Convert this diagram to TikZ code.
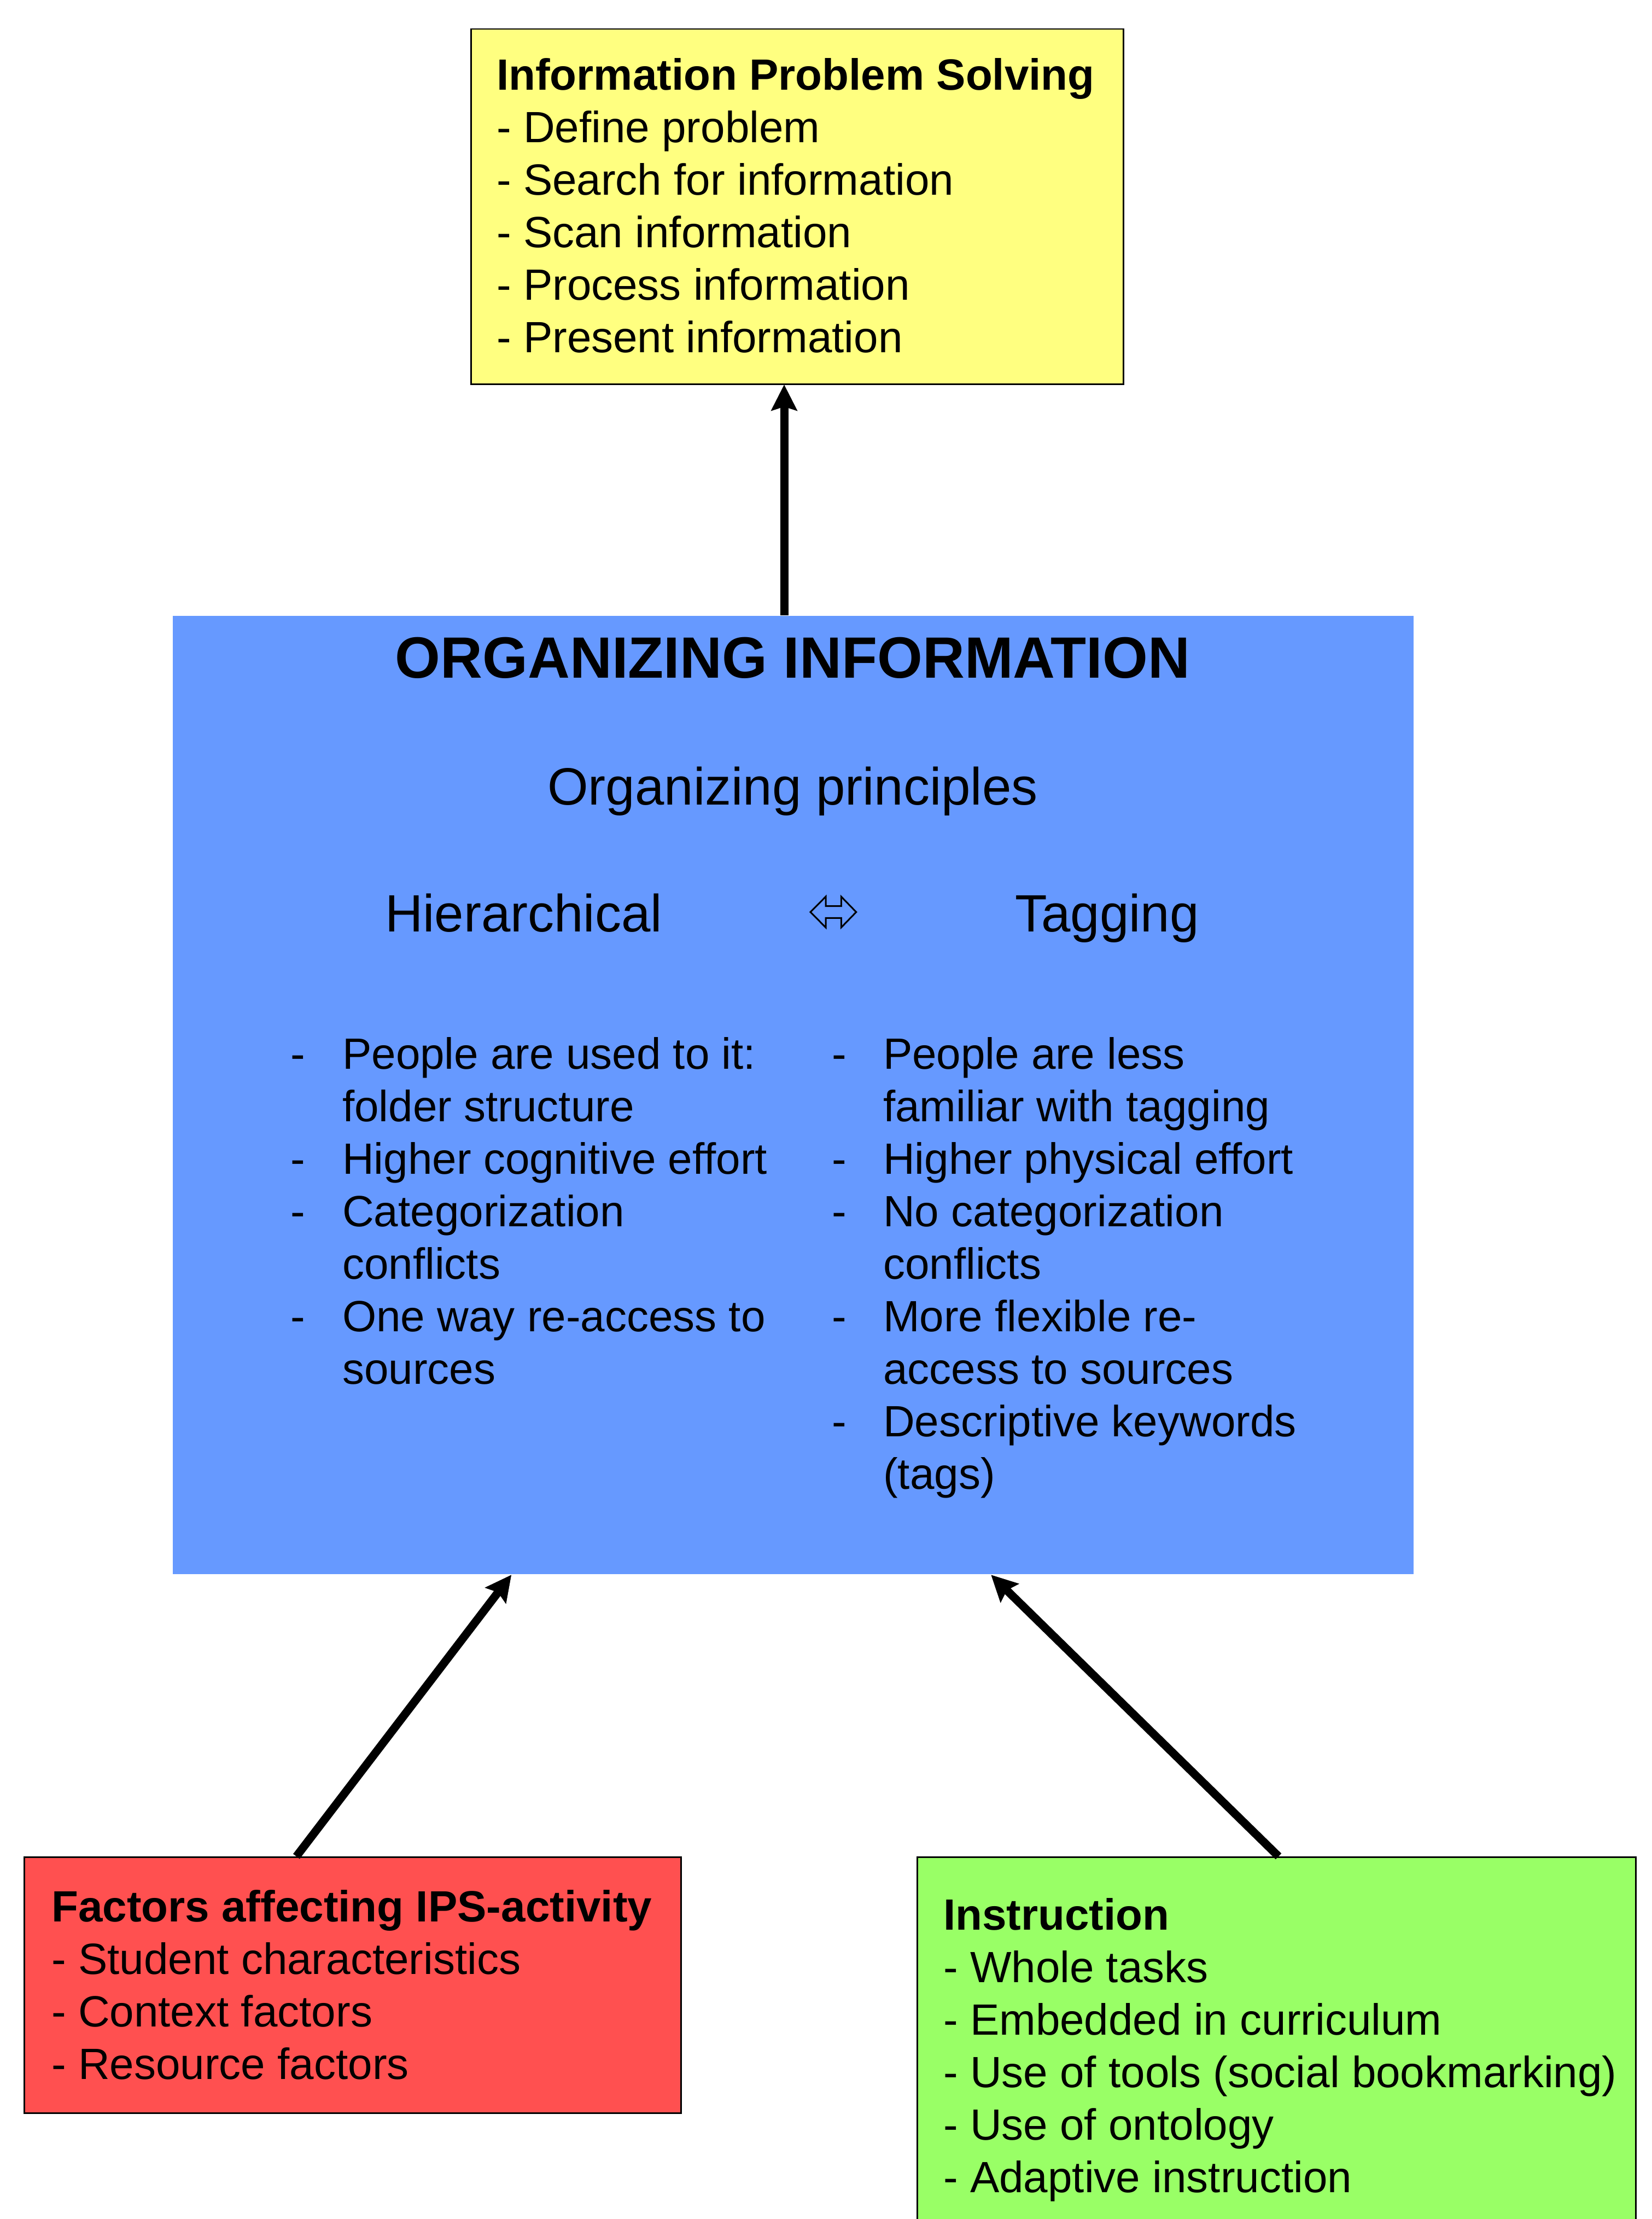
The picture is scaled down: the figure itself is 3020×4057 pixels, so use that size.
\documentclass[tikz,border=0pt]{standalone}
\usepackage{fontspec}
\setmainfont{Liberation Sans}
\usetikzlibrary{arrows.meta,calc}
\definecolor{ybox}{HTML}{FFFF80}
\definecolor{bbox}{HTML}{6699FF}
\definecolor{rbox}{HTML}{FF5050}
\definecolor{gbox}{HTML}{99FF66}
\begin{document}
\begin{tikzpicture}[x=1pt,y=-1pt,
  panel/.style={rectangle, inner sep=0pt, anchor=north west, draw=black, line width=2.5pt},
  txt/.style={inner sep=0pt, anchor=base west, font=\fontsize{80}{96}\selectfont},
  big/.style={inner sep=0pt, anchor=base, font=\fontsize{96}{115}\selectfont},
  conn/.style={line width=15pt, -{Stealth[length=48pt,width=49pt,inset=8pt,line width=0.5pt]}},
  swap/.style={line width=3pt, line join=miter}]
\useasboundingbox (0,0) rectangle (3020,4057);

% boxes
\node[panel, fill=ybox, minimum width=1193pt, minimum height=649pt] (ips) at (860,52) {};
\node[panel, fill=bbox, draw=none, minimum width=2269pt, minimum height=1752pt] (org) at (315,1125) {};
\node[panel, fill=rbox, minimum width=1201pt, minimum height=468pt] (fac) at (43,3394) {};
\node[panel, fill=gbox, minimum width=1314pt, minimum height=720pt] (ins) at (1676,3394) {};

% yellow text
\node[txt] (ipstext) at (908,164.5) {\begin{tabular}[t]{@{}l@{}}
\textbf{Information Problem Solving}\\
- Define problem\\
- Search for information\\
- Scan information\\
- Process information\\
- Present information
\end{tabular}};

% blue text
\node[inner sep=0pt, anchor=base, font=\fontsize{106.5}{128}\selectfont\bfseries] (orgtitle) at (1449.5,1239) {ORGANIZING INFORMATION};
\node[big] (principles) at (1449.5,1471) {Organizing principles};
\node[big, anchor=base west] (hier) at (704,1703) {Hierarchical};
\node[big, anchor=base west] (tag) at (1856,1703) {Tagging};
\draw[swap] (1482,1667.5) -- (1510,1639.3) -- (1510,1656.7) -- (1538.3,1656.7) -- (1538.3,1639.3)
  -- (1565.7,1667.5) -- (1538.3,1695.7) -- (1538.3,1678.3) -- (1510,1678.3) -- (1510,1695.7) -- cycle;

\node[txt] (hierlist) at (531,1954) {\begin{tabular}[t]{@{}p{95pt}@{}l@{}}
-&People are used to it:\\
 &folder structure\\
-&Higher cognitive effort\\
-&Categorization\\
 &conflicts\\
-&One way re-access to\\
 &sources
\end{tabular}};
\node[txt] (taglist) at (1521,1954) {\begin{tabular}[t]{@{}p{94pt}@{}l@{}}
-&People are less\\
 &familiar with tagging\\
-&Higher physical effort\\
-&No categorization\\
 &conflicts\\
-&More flexible re-\\
 &access to sources\\
-&Descriptive keywords\\
 &(tags)
\end{tabular}};

% red text
\node[txt] (factext) at (94,3513) {\begin{tabular}[t]{@{}l@{}}
\textbf{Factors affecting IPS-activity}\\
- Student characteristics\\
- Context factors\\
- Resource factors
\end{tabular}};

% green text
\node[txt] (instext) at (1725,3528.5) {\begin{tabular}[t]{@{}l@{}}
\textbf{Instruction}\\
- Whole tasks\\
- Embedded in curriculum\\
- Use of tools (social bookmarking)\\
- Use of ontology\\
- Adaptive instruction
\end{tabular}};

% connectors
\coordinate (xup) at (1434,0);
\coordinate (xredtail) at (542,0);
\coordinate (xredtip) at (935,0);
\coordinate (xgrntail) at (2338,0);
\coordinate (xgrntip) at (1812.5,0);
\draw[conn] (org.north -| xup) -- (ips.south -| xup);
\draw[conn] (fac.north -| xredtail) -- (org.south -| xredtip);
\draw[conn] (ins.north -| xgrntail) -- (org.south -| xgrntip);
\end{tikzpicture}
\end{document}
